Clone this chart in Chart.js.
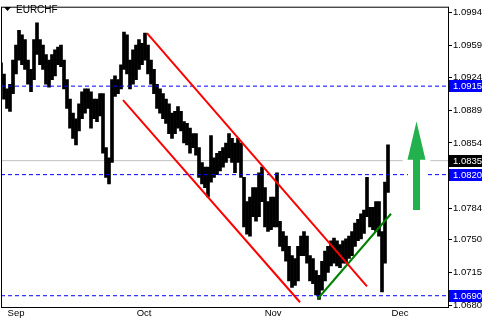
<!DOCTYPE html>
<html><head><meta charset="utf-8">
<script src="https://cdn.jsdelivr.net/npm/chart.js@4.4.0/dist/chart.umd.min.js"></script>
<style>html,body{margin:0;padding:0;background:#fff;overflow:hidden}canvas{display:block}</style>
</head><body>
<canvas id="c" width="482" height="321"></canvas>
<script>
// ===== dados (EURCHF, uma coluna por barra agrupada) =====
const barHigh = [
  1.0940,1.0928,1.0912,1.0917,1.0943,1.0959,1.0975,1.0970,1.0965,1.0943,
  1.0933,1.0965,1.0983,1.0965,1.0959,1.0949,1.0943,1.0949,1.0954,1.0957,
  1.0959,1.0943,1.0922,1.0901,1.0886,1.0880,1.0896,1.0909,1.0912,1.0912,
  1.0909,1.0901,1.0901,1.0907,1.0907,1.0849,1.0838,1.0922,1.0926,1.0922,
  1.0938,1.0973,1.0970,1.0943,1.0954,1.0959,1.0965,1.0961,1.0972,1.0959,
  1.0943,1.0933,1.0917,1.0912,1.0907,1.0901,1.0896,1.0886,1.0888,1.0893,
  1.0888,1.0877,1.0875,1.0870,1.0864,1.0864,1.0849,1.0833,1.0828,1.0828,
  1.0862,1.0838,1.0843,1.0845,1.0849,1.0854,1.0864,1.0859,1.0854,1.0859,
  1.0854,1.0817,1.0791,1.0796,1.0806,1.0806,1.0822,1.0828,1.0806,1.0791,
  1.0796,1.0796,1.0822,1.0770,1.0759,1.0754,1.0743,1.0733,1.0730,1.0743,
  1.0754,1.0759,1.0754,1.0733,1.0730,1.0717,1.0712,1.0727,1.0738,1.0743,
  1.0749,1.0752,1.0749,1.0745,1.0749,1.0751,1.0754,1.0759,1.0768,1.0772,
  1.0778,1.0782,1.0817,1.0785,1.0785,1.0791,1.0791,1.0759,1.0812,1.0852
];
const barLow = [
  1.0917,1.0901,1.0891,1.0888,1.0907,1.0928,1.0943,1.0938,1.0933,1.0917,
  1.0909,1.0922,1.0949,1.0938,1.0933,1.0917,1.0914,1.0922,1.0926,1.0938,
  1.0936,1.0912,1.0891,1.0870,1.0859,1.0852,1.0867,1.0880,1.0886,1.0891,
  1.0870,1.0880,1.0877,1.0883,1.0843,1.0817,1.0810,1.0833,1.0904,1.0907,
  1.0912,1.0933,1.0928,1.0912,1.0917,1.0922,1.0933,1.0938,1.0943,1.0928,
  1.0917,1.0907,1.0891,1.0886,1.0880,1.0875,1.0864,1.0859,1.0864,1.0870,
  1.0867,1.0854,1.0852,1.0843,1.0849,1.0841,1.0817,1.0810,1.0806,1.0796,
  1.0812,1.0817,1.0820,1.0824,1.0828,1.0833,1.0838,1.0833,1.0822,1.0833,
  1.0817,1.0764,1.0756,1.0754,1.0775,1.0770,1.0775,1.0791,1.0764,1.0759,
  1.0761,1.0764,1.0764,1.0743,1.0738,1.0727,1.0706,1.0699,1.0701,1.0706,
  1.0733,1.0733,1.0725,1.0706,1.0703,1.0691,1.0686,1.0696,1.0706,1.0715,
  1.0722,1.0725,1.0722,1.0720,1.0725,1.0725,1.0730,1.0733,1.0743,1.0749,
  1.0751,1.0757,1.0775,1.0764,1.0761,1.0759,1.0754,1.0694,1.0725,1.0801
];
const monthLabels = ["Sep", "Oct", "Nov", "Dec"];
const monthPos = [5, 47.7, 90.7, 133];
const priceTicks = [1.0994, 1.0959, 1.0924, 1.0889, 1.0854, 1.0819, 1.0784, 1.0750, 1.0715, 1.0680];
const dashedLevels = [1.0915, 1.0820, 1.0690];
const bidLevel = 1.0835;
const channelUpper = [[48.67, 1.0972], [122, 1.0700]];
const channelLower = [[40.67, 1.0900], [99.67, 1.0683]];
const supportLine = [[105.67, 1.0687], [130, 1.0778]];
const arrowX = 138.5, arrowTip = 1.0877, arrowNeck = 1.0836, arrowBase = 1.0782;
const priceBoxes = [[1.0915, "#0000ff"], [1.0835, "#000000"], [1.0820, "#0000ff"], [1.0690, "#0000ff"]];

const FONT = "'Liberation Sans', Arial, sans-serif";
const pts = arr => arr.map(p => ({ x: p[0], y: p[1] }));
const levelLine = (v, color, dash, ord) => ({
  type: "line", data: [{ x: 0, y: v }, { x: 149, y: v }], borderColor: color, borderWidth: 1,
  borderDash: dash, pointRadius: 0, order: ord
});

// ===== desenho extra: seta, moldura, caixas de preço, título =====
const extras = {
  id: "extras",
  afterDatasetsDraw(chart) {
    const { ctx, scales: { x, y } } = chart;
    const cx = x.getPixelForValue(arrowX);
    const t = y.getPixelForValue(arrowTip), n = y.getPixelForValue(arrowNeck), b = y.getPixelForValue(arrowBase);
    ctx.save();
    ctx.beginPath();
    ctx.moveTo(cx, t); ctx.lineTo(cx + 9, n); ctx.lineTo(cx + 3.5, n); ctx.lineTo(cx + 3.5, b);
    ctx.lineTo(cx - 3.5, b); ctx.lineTo(cx - 3.5, n); ctx.lineTo(cx - 9, n); ctx.closePath();
    ctx.strokeStyle = "#fff"; ctx.lineWidth = 10; ctx.lineJoin = "round"; ctx.stroke();
    ctx.fillStyle = "#22b14c"; ctx.fill();
    ctx.restore();
  },
  afterDraw(chart) {
    const { ctx, chartArea: a, scales: { y } } = chart;
    ctx.save();
    ctx.strokeStyle = "#000"; ctx.lineWidth = 1;
    ctx.strokeRect(a.left + 0.5, a.top + 0.5, a.right - a.left, a.bottom - a.top);
    ctx.font = "9.5px " + FONT; ctx.textBaseline = "middle"; ctx.textAlign = "left";
    priceBoxes.forEach(([v, col]) => {
      const py = Math.round(y.getPixelForValue(v));
      ctx.fillStyle = col; ctx.fillRect(a.right + 1, py - 6, 482 - a.right, 12);
      ctx.fillStyle = "#fff"; ctx.fillText(v.toFixed(4), 453, py + 0.5);
    });
    // título
    ctx.fillStyle = "#000";
    ctx.beginPath(); ctx.moveTo(4, 7); ctx.lineTo(11, 7); ctx.lineTo(7.5, 11); ctx.closePath(); ctx.fill();
    ctx.font = "10px " + FONT; ctx.textBaseline = "alphabetic";
    ctx.fillText("EURCHF", 16, 13);
    ctx.restore();
  }
};

new Chart(document.getElementById("c"), {
  data: {
    datasets: [
      { type: "line", data: pts(channelUpper), borderColor: "#ff0000", borderWidth: 2, pointRadius: 0, order: 1 },
      { type: "line", data: pts(channelLower), borderColor: "#ff0000", borderWidth: 2, pointRadius: 0, order: 1 },
      { type: "line", data: pts(supportLine), borderColor: "#008000", borderWidth: 2, pointRadius: 0, order: 1 },
      ...dashedLevels.map(v => levelLine(v, "#0000ff", [4, 3], 2)),
      { type: "bar", data: barHigh.map((h, i) => ({ x: i, y: [barLow[i], h] })),
        backgroundColor: "#000", barThickness: 3, grouped: false, order: 3 },
      levelLine(bidLevel, "#c0c0c0", [], 4)
    ]
  },
  options: {
    responsive: false, animation: false, events: [],
    layout: { padding: { left: 1, top: 1, right: 0, bottom: 0 } },
    plugins: { legend: { display: false }, tooltip: { enabled: false } },
    scales: {
      x: {
        type: "linear", min: 0, max: 149, offset: false,
        afterFit: s => { s.height = 14; },
        afterBuildTicks: s => { s.ticks = monthPos.map(v => ({ value: v })); },
        grid: { display: false }, border: { display: false },
        ticks: { autoSkip: false, maxRotation: 0, padding: -7, color: "#000", font: { family: FONT, size: 9.5 },
          callback: (v, i) => monthLabels[i] }
      },
      y: {
        position: "right", min: 1.06779, max: 1.10003,
        afterFit: s => { s.width = 34; },
        afterBuildTicks: s => { s.ticks = priceTicks.map(v => ({ value: v })); },
        grid: { drawOnChartArea: false, tickLength: 4, color: "#000" }, border: { display: false },
        ticks: { padding: 1, color: "#000", font: { family: FONT, size: 9.5 }, callback: v => v.toFixed(4) }
      }
    }
  },
  plugins: [extras]
});
</script>
</body></html>
